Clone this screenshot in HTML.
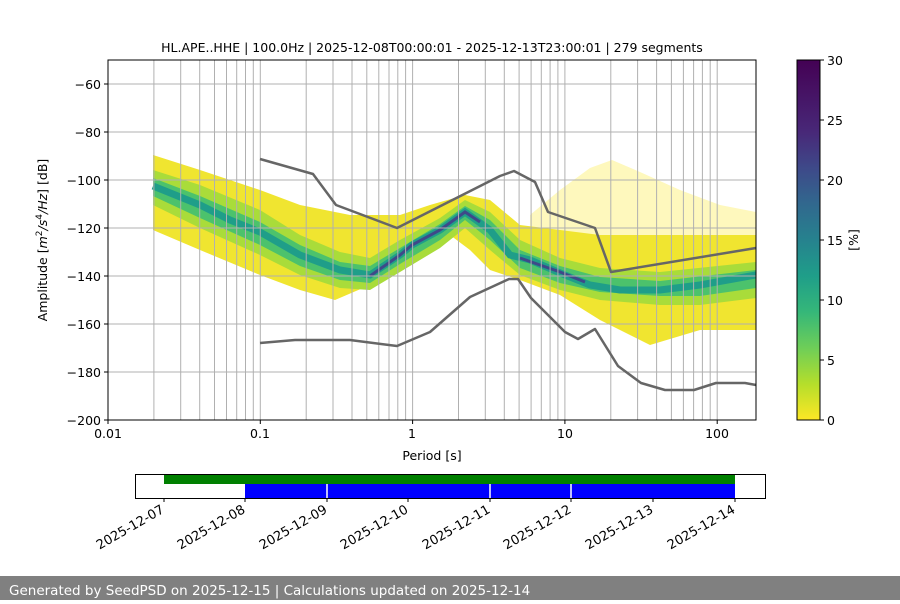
<!DOCTYPE html>
<html><head><meta charset="utf-8"><style>
body{margin:0;background:#fff;width:900px;height:600px;overflow:hidden;font-family:"DejaVu Sans","Liberation Sans",sans-serif}
</style></head><body>
<svg width="900" height="600" xmlns="http://www.w3.org/2000/svg" font-family="DejaVu Sans, Liberation Sans, sans-serif">
<defs>
<linearGradient id="vir" x1="0" y1="1" x2="0" y2="0">
<stop offset="0" stop-color="#fde725"/><stop offset="0.1" stop-color="#b5de2b"/><stop offset="0.2" stop-color="#6ece58"/><stop offset="0.3" stop-color="#35b779"/><stop offset="0.4" stop-color="#1f9e89"/><stop offset="0.5" stop-color="#26828e"/><stop offset="0.6" stop-color="#31688e"/><stop offset="0.7" stop-color="#3e4989"/><stop offset="0.8" stop-color="#482878"/><stop offset="1" stop-color="#440154"/>
</linearGradient>
<clipPath id="pc"><rect x="108" y="60" width="648" height="360"/></clipPath>
</defs>
<text x="432" y="52" font-size="12.5" text-anchor="middle">HL.APE..HHE | 100.0Hz | 2025-12-08T00:00:01 - 2025-12-13T23:00:01 | 279 segments</text>
<g clip-path="url(#pc)">
<polygon points="530,215 560,190 590,168 612,160 640,172 680,190 720,205 756,212 756,240 530,240" fill="#fde725" opacity="0.3"/>
<polygon fill="#f0e530" points="153,155 200,170 260,190 300,205 350,215 400,215 430,205 465,195 490,200 520,225 600,235 756,235 756,330 700,330 650,345 600,320 560,295 520,280 490,270 470,250 450,235 430,245 400,265 370,285 335,300 300,290 260,275 200,250 153,230"/>
<polygon fill="#a9dc3a" points="153,170 200,185 260,210 300,235 340,252 370,258 400,240 440,218 465,200 490,212 520,240 560,258 600,268 660,272 756,262 756,298 700,305 660,305 600,300 560,290 520,275 490,250 465,228 440,248 400,272 370,290 340,288 300,275 260,255 200,228 153,205"/>
<polygon fill="#4cc26c" points="153,178 200,196 260,222 300,245 340,262 370,266 400,248 440,224 465,206 490,220 520,250 560,266 600,277 660,281 756,270 756,288 700,296 660,296 600,292 560,283 520,268 490,240 465,220 440,240 400,264 370,283 340,280 300,266 260,245 200,218 153,196"/>
<polyline fill="none" stroke="#1f9e89" stroke-width="7" points="153,186 200,205 230,220 260,232 300,255 340,270 370,275 400,255 412,245 440,230 465,212 490,230 510,255 530,260 565,275 590,285 620,290 660,290 700,285 756,275"/>
<polyline fill="none" stroke="#3e4989" stroke-width="3" points="370,276 400,255 412,245 440,230 465,212 480,222"/>
<polyline fill="none" stroke="#3e4989" stroke-width="3" points="520,258 560,272 585,282"/>
</g>
<g stroke="#b0b0b0" stroke-width="1">
<line x1="108" y1="84" x2="756" y2="84"/><line x1="108" y1="132" x2="756" y2="132"/><line x1="108" y1="180" x2="756" y2="180"/><line x1="108" y1="228" x2="756" y2="228"/><line x1="108" y1="276" x2="756" y2="276"/><line x1="108" y1="324" x2="756" y2="324"/><line x1="108" y1="372" x2="756" y2="372"/>
<line x1="153.9" y1="60" x2="153.9" y2="420"/><line x1="180.7" y1="60" x2="180.7" y2="420"/><line x1="199.7" y1="60" x2="199.7" y2="420"/><line x1="214.5" y1="60" x2="214.5" y2="420"/><line x1="226.5" y1="60" x2="226.5" y2="420"/><line x1="236.7" y1="60" x2="236.7" y2="420"/><line x1="245.5" y1="60" x2="245.5" y2="420"/><line x1="253.3" y1="60" x2="253.3" y2="420"/><line x1="260.3" y1="60" x2="260.3" y2="420"/>
<line x1="306.2" y1="60" x2="306.2" y2="420"/><line x1="333" y1="60" x2="333" y2="420"/><line x1="352" y1="60" x2="352" y2="420"/><line x1="366.8" y1="60" x2="366.8" y2="420"/><line x1="378.8" y1="60" x2="378.8" y2="420"/><line x1="389" y1="60" x2="389" y2="420"/><line x1="397.8" y1="60" x2="397.8" y2="420"/><line x1="405.6" y1="60" x2="405.6" y2="420"/><line x1="412.6" y1="60" x2="412.6" y2="420"/>
<line x1="458.5" y1="60" x2="458.5" y2="420"/><line x1="485.3" y1="60" x2="485.3" y2="420"/><line x1="504.3" y1="60" x2="504.3" y2="420"/><line x1="519.1" y1="60" x2="519.1" y2="420"/><line x1="531.1" y1="60" x2="531.1" y2="420"/><line x1="541.3" y1="60" x2="541.3" y2="420"/><line x1="550.1" y1="60" x2="550.1" y2="420"/><line x1="557.9" y1="60" x2="557.9" y2="420"/><line x1="564.9" y1="60" x2="564.9" y2="420"/>
<line x1="610.8" y1="60" x2="610.8" y2="420"/><line x1="637.6" y1="60" x2="637.6" y2="420"/><line x1="656.6" y1="60" x2="656.6" y2="420"/><line x1="671.4" y1="60" x2="671.4" y2="420"/><line x1="683.4" y1="60" x2="683.4" y2="420"/><line x1="693.6" y1="60" x2="693.6" y2="420"/><line x1="702.4" y1="60" x2="702.4" y2="420"/><line x1="710.2" y1="60" x2="710.2" y2="420"/><line x1="717.2" y1="60" x2="717.2" y2="420"/>
</g>
<g fill="none" stroke="#666" stroke-width="2.5" stroke-linejoin="round">
<polyline points="260,159 313,174 336,205 397,228 500,176 514,171 535,182 548,212 595,228 611,272 756,248"/>
<polyline points="260,343 295,340 350,340 397,346 430,332 470,297 509,279 518,279 531,298 565,332 578,339 595,329 618,366 641,383 665,390 694,390 716,383 745,383 756,385"/>
</g>
<rect x="108" y="60" width="648" height="360" fill="none" stroke="#000" stroke-width="1"/>
<g font-size="12.5" text-anchor="end">
<g stroke="#000"><line x1="104" y1="84" x2="108" y2="84"/><line x1="104" y1="132" x2="108" y2="132"/><line x1="104" y1="180" x2="108" y2="180"/><line x1="104" y1="228" x2="108" y2="228"/><line x1="104" y1="276" x2="108" y2="276"/><line x1="104" y1="324" x2="108" y2="324"/><line x1="104" y1="372" x2="108" y2="372"/><line x1="104" y1="420" x2="108" y2="420"/></g>
<text x="101" y="89">−60</text><text x="101" y="137">−80</text><text x="101" y="185">−100</text><text x="101" y="233">−120</text><text x="101" y="281">−140</text><text x="101" y="329">−160</text><text x="101" y="377">−180</text><text x="101" y="425">−200</text>
</g>
<g font-size="12.5" text-anchor="middle">
<g stroke="#000"><line x1="108" y1="420" x2="108" y2="424"/><line x1="260.3" y1="420" x2="260.3" y2="424"/><line x1="412.6" y1="420" x2="412.6" y2="424"/><line x1="564.9" y1="420" x2="564.9" y2="424"/><line x1="717.2" y1="420" x2="717.2" y2="424"/></g>
<text x="108" y="438">0.01</text><text x="260" y="438">0.1</text><text x="412" y="438">1</text><text x="565" y="438">10</text><text x="717" y="438">100</text>
<text x="432" y="460">Period [s]</text>
</g>
<text transform="translate(47,240) rotate(-90)" font-size="12.5" text-anchor="middle">Amplitude [<tspan font-style="italic">m</tspan><tspan font-size="9" dy="-5">2</tspan><tspan dy="5" font-style="italic">/s</tspan><tspan font-size="9" dy="-5">4</tspan><tspan dy="5" font-style="italic">/Hz</tspan>] [dB]</text>
<rect x="797" y="60" width="23" height="360" fill="url(#vir)" stroke="#000" stroke-width="1"/>
<g font-size="12.5"><g stroke="#000"><line x1="820" y1="60" x2="824" y2="60"/><line x1="820" y1="120" x2="824" y2="120"/><line x1="820" y1="180" x2="824" y2="180"/><line x1="820" y1="240" x2="824" y2="240"/><line x1="820" y1="300" x2="824" y2="300"/><line x1="820" y1="360" x2="824" y2="360"/><line x1="820" y1="420" x2="824" y2="420"/></g>
<text x="827" y="65">30</text><text x="827" y="125">25</text><text x="827" y="185">20</text><text x="827" y="245">15</text><text x="827" y="305">10</text><text x="827" y="365">5</text><text x="827" y="425">0</text></g>
<text transform="translate(858,240) rotate(-90)" font-size="12.5" text-anchor="middle">[%]</text>
<rect x="164" y="475" width="571" height="9" fill="#008000"/>
<rect x="245" y="484" width="490" height="14" fill="#0000ff"/>
<g stroke="#fff" stroke-width="1.5"><line x1="327" y1="484" x2="327" y2="498"/><line x1="490" y1="484" x2="490" y2="498"/><line x1="571" y1="484" x2="571" y2="498"/></g>
<rect x="135.5" y="474.5" width="630" height="24" fill="none" stroke="#000"/>
<g stroke="#000"><line x1="164" y1="498" x2="164" y2="502"/><line x1="245" y1="498" x2="245" y2="502"/><line x1="327" y1="498" x2="327" y2="502"/><line x1="408" y1="498" x2="408" y2="502"/><line x1="490" y1="498" x2="490" y2="502"/><line x1="571" y1="498" x2="571" y2="502"/><line x1="653" y1="498" x2="653" y2="502"/><line x1="735" y1="498" x2="735" y2="502"/></g>
<g font-size="13" text-anchor="end">
<text transform="translate(165,512) rotate(-30)">2025-12-07</text>
<text transform="translate(246,512) rotate(-30)">2025-12-08</text>
<text transform="translate(328,512) rotate(-30)">2025-12-09</text>
<text transform="translate(409,512) rotate(-30)">2025-12-10</text>
<text transform="translate(491,512) rotate(-30)">2025-12-11</text>
<text transform="translate(572,512) rotate(-30)">2025-12-12</text>
<text transform="translate(654,512) rotate(-30)">2025-12-13</text>
<text transform="translate(736,512) rotate(-30)">2025-12-14</text>
</g>
<rect x="0" y="576" width="900" height="24" fill="#808080"/>
<text x="9" y="595" font-size="13.5" fill="#fff">Generated by SeedPSD on 2025-12-15 | Calculations updated on 2025-12-14</text>
</svg>
</body></html>
